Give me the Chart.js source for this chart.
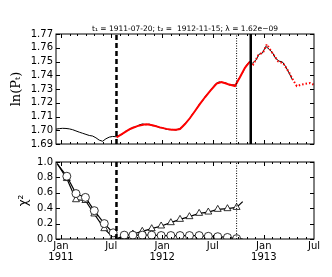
<!DOCTYPE html>
<html>
<head>
<meta charset="utf-8">
<script src="https://cdn.jsdelivr.net/npm/chart.js@4.4.1/dist/chart.umd.min.js"></script>
<style>
body { margin: 0; background: #fff; }
#wrap { position: relative; width: 332px; height: 277px; }
canvas { position: absolute; left: 0; }
</style>
</head>
<body>
<div id="wrap">
  <canvas id="chartTop" width="332" height="153" style="top:0"></canvas>
  <canvas id="chartBot" width="332" height="127" style="top:150px"></canvas>
</div>
<script>
// x values are days counted from 1911-01-01
const t1 = 200;      // 1911-07-20
const t2 = 684;      // 1912-11-15
const tDot = 633;    // dotted marker
const titleText = 't\u2081 = 1911-07-20; t\u2082 =  1912-11-15; \u03bb = 1.62e\u221209';

const monthDays = [0,31,59,90,120,151,181,212,243,273,304,334,
                   365,396,425,456,486,517,547,578,609,639,670,700,
                   731,762,790,821,851,882,912];
const xTickDays = [0,181,365,547,731,912];
const xTickLabels = [['Jan','1911'],['Jul'],['Jan','1912'],['Jul'],['Jan','1913'],['Jul']];
const yTicksTop = [1.69,1.70,1.71,1.72,1.73,1.74,1.75,1.76,1.77];
const yTicksBot = [0.0,0.2,0.4,0.6,0.8,1.0];

// observed ln(P_t)
const obsDays = [-18,-6,6,18,30,42,54,66,78,90,102,114,126,138,150,162,174,186,198,
  210,222,234,246,258,270,282,294,306,318,330,342,354,366,378,390,402,414,426,438,
  450,462,474,486,498,510,522,534,546,558,570,582,594,606,618,630,642,654,666,678,
  690,702,714,726,738,750,762,774,786,798,810,822,834];
const obsVals = [1.7008,1.7012,1.7014,1.7013,1.7010,1.7004,1.6995,1.6986,1.6978,1.6970,
  1.6962,1.6958,1.6945,1.6928,1.6920,1.6938,1.6950,1.6955,1.6953,
  1.6962,1.6971,1.6995,1.7003,1.7021,1.7024,1.7039,1.7046,1.7040,1.7045,1.7033,1.7032,
  1.7019,1.7018,1.7008,1.7004,1.7006,1.7001,1.7011,1.7024,1.7056,1.7079,1.7118,1.7146,
  1.7187,1.7213,1.7252,1.7275,1.7310,1.7338,1.7352,1.7346,1.7345,1.7329,1.7331,1.7328,
  1.7379,1.7416,1.7466,1.7497,1.7488,1.7508,1.7553,1.7561,1.7610,1.7590,1.7565,1.7522,
  1.7503,1.7497,1.7462,1.7417,1.7368];

// fitted / predicted curve
const fitDays = [200,225,249,275,300,309,330,357,380,399,415,429,447,465,483,501,519,
  537,561,579,603,627,645,663,681,693,711,729,742,760,783,801,826,837,850,874,898,912];
const fitVals = [1.6948,1.6979,1.7009,1.7030,1.7042,1.7044,1.7036,1.7021,1.7010,1.7003,
  1.7004,1.7009,1.7045,1.7089,1.7140,1.7192,1.7240,1.7285,1.7340,1.7351,1.7335,1.7322,
  1.7385,1.7454,1.7500,1.7478,1.7545,1.7568,1.7625,1.7568,1.7500,1.7488,1.7408,1.7363,
  1.7322,1.7335,1.7344,1.7330];

// chi^2 panel
const chiDays = [-14,21,54,88,120,156,188,200,228,259,293,327,361,396,429,463,498,531,565,600,633,655];
const chiCircle = [0.98,0.815,0.59,0.54,0.368,0.2,0.08,0.0,0.05,0.05,0.05,0.05,0.045,0.045,
  0.045,0.045,0.045,0.035,0.03,0.02,0.005,0.0];
const chiTriangle = [0.98,0.785,0.51,0.5,0.325,0.134,0.02,0.0,0.03,0.065,0.10,0.134,0.169,
  0.212,0.255,0.29,0.333,0.35,0.385,0.394,0.41,0.485];
const chiNoMark = [0, 7, 21];

const pts = (xs, ys) => xs.map((x, i) => ({x: x, y: ys[i]}));
const vline = (x, y0, y1) => [{x: x, y: y0}, {x: x, y: y1}];

const frameTicks = {
  id: 'frameTicks',
  afterDatasetsDraw(chart) {
    const {ctx, chartArea: a, scales} = chart;
    ctx.save();
    ctx.strokeStyle = '#000';
    ctx.lineWidth = 1;
    ctx.beginPath();
    monthDays.forEach(d => {
      const px = Math.round(scales.x.getPixelForValue(d)) + 0.5;
      if (px < a.left || px > a.right) return;
      const len = xTickDays.includes(d) ? 4 : 2;
      ctx.moveTo(px, a.bottom); ctx.lineTo(px, a.bottom - len);
      ctx.moveTo(px, a.top); ctx.lineTo(px, a.top + len);
    });
    scales.y.ticks.forEach(t => {
      const py = Math.round(scales.y.getPixelForValue(t.value)) + 0.5;
      ctx.moveTo(a.left, py); ctx.lineTo(a.left + 4, py);
      ctx.moveTo(a.right, py); ctx.lineTo(a.right - 4, py);
    });
    ctx.stroke();
    ctx.strokeRect(a.left, a.top, a.right - a.left, a.bottom - a.top);
    if (chart.canvas.id === 'chartTop') {
      ctx.fillStyle = '#000';
      ctx.font = '7.5px "DejaVu Sans"';
      ctx.textAlign = 'center';
      ctx.textBaseline = 'middle';
      ctx.fillText(titleText, (a.left + a.right) / 2, 29);
    }
    ctx.restore();
  }
};

const tickFont = {family: 'DejaVu Sans', size: 10};

new Chart(document.getElementById('chartTop'), {
  type: 'scatter',
  data: {
    datasets: [
      {data: vline(t2, 1.69, 1.77), showLine: true, borderColor: '#000', borderWidth: 2.5, pointRadius: 0, order: 0},
      {data: vline(t1, 1.69, 1.77), showLine: true, borderColor: '#000', borderWidth: 2.5, borderDash: [5, 3], pointRadius: 0, order: 0},
      {data: vline(tDot, 1.69, 1.77), showLine: true, borderColor: '#000', borderWidth: 1, borderDash: [1, 1.5], pointRadius: 0, order: 0},
      {
        data: pts(fitDays, fitVals), showLine: true, borderColor: 'red', borderWidth: 2, pointRadius: 0, order: 1,
        segment: {borderDash: c => c.p0.parsed.x >= t2 - 4 ? [1.5, 2] : undefined}
      },
      {data: pts(obsDays, obsVals), showLine: true, borderColor: '#000', borderWidth: 1, pointRadius: 0, order: 2}
    ]
  },
  options: {
    responsive: false,
    animation: false,
    layout: {padding: {left: 0, right: 18, top: 34, bottom: 2}},
    plugins: {legend: {display: false}, tooltip: {enabled: false}},
    scales: {
      x: {type: 'linear', min: -18, max: 912, display: false},
      y: {
        min: 1.69, max: 1.77,
        afterBuildTicks: s => { s.ticks = yTicksTop.map(v => ({value: v})); },
        ticks: {autoSkip: false, callback: v => v.toFixed(2), font: tickFont, color: '#000', padding: 3},
        grid: {display: false, drawTicks: false},
        border: {display: false},
        title: {display: true, text: 'ln(P\u209c)', color: '#000', font: {family: 'DejaVu Serif', size: 13}, padding: {top: 9, bottom: 0}},
        afterFit: s => { s.width = 56; }
      }
    }
  },
  plugins: [frameTicks]
});

const chiRadius = c => chiNoMark.includes(c.dataIndex) ? 0 : 4;

new Chart(document.getElementById('chartBot'), {
  type: 'scatter',
  data: {
    datasets: [
      {data: vline(t1, 0, 1), showLine: true, borderColor: '#000', borderWidth: 2.5, borderDash: [5, 3], pointRadius: 0, order: 0},
      {data: vline(tDot, 0, 1), showLine: true, borderColor: '#000', borderWidth: 1, borderDash: [1, 1.5], pointRadius: 0, order: 0},
      {
        data: pts(chiDays, chiCircle), showLine: true, borderColor: '#000', borderWidth: 1.2,
        pointStyle: 'circle', pointRadius: chiRadius, pointBackgroundColor: '#fff', pointBorderColor: '#000', pointBorderWidth: 0.8, order: 1
      },
      {
        data: pts(chiDays, chiTriangle), showLine: true, borderColor: '#000', borderWidth: 1.2,
        pointStyle: 'triangle', pointRadius: chiRadius, pointBackgroundColor: '#fff', pointBorderColor: '#000', pointBorderWidth: 0.8, order: 2
      }
    ]
  },
  options: {
    responsive: false,
    animation: false,
    layout: {padding: {left: 0, right: 18, top: 12, bottom: 0}},
    plugins: {legend: {display: false}, tooltip: {enabled: false}},
    scales: {
      x: {
        type: 'linear', min: -18, max: 912,
        afterBuildTicks: s => { s.ticks = xTickDays.map(v => ({value: v})); },
        ticks: {
          autoSkip: false, maxRotation: 0, padding: 2, color: '#000',
          font: {family: 'DejaVu Sans', size: 10, lineHeight: 1.1},
          callback: (v, i) => xTickLabels[i]
        },
        grid: {display: false, drawTicks: false},
        border: {display: false},
        afterFit: s => { s.height = 38; }
      },
      y: {
        min: 0, max: 1,
        afterBuildTicks: s => { s.ticks = yTicksBot.map(v => ({value: v})); },
        ticks: {autoSkip: false, callback: v => v.toFixed(1), font: tickFont, color: '#000', padding: 3},
        grid: {display: false, drawTicks: false},
        border: {display: false},
        title: {display: true, text: '\u03c7\u00b2', color: '#000', font: {family: 'DejaVu Sans', size: 12}, padding: {top: 17, bottom: 0}},
        afterFit: s => { s.width = 56; }
      }
    }
  },
  plugins: [frameTicks]
});
</script>
</body>
</html>
